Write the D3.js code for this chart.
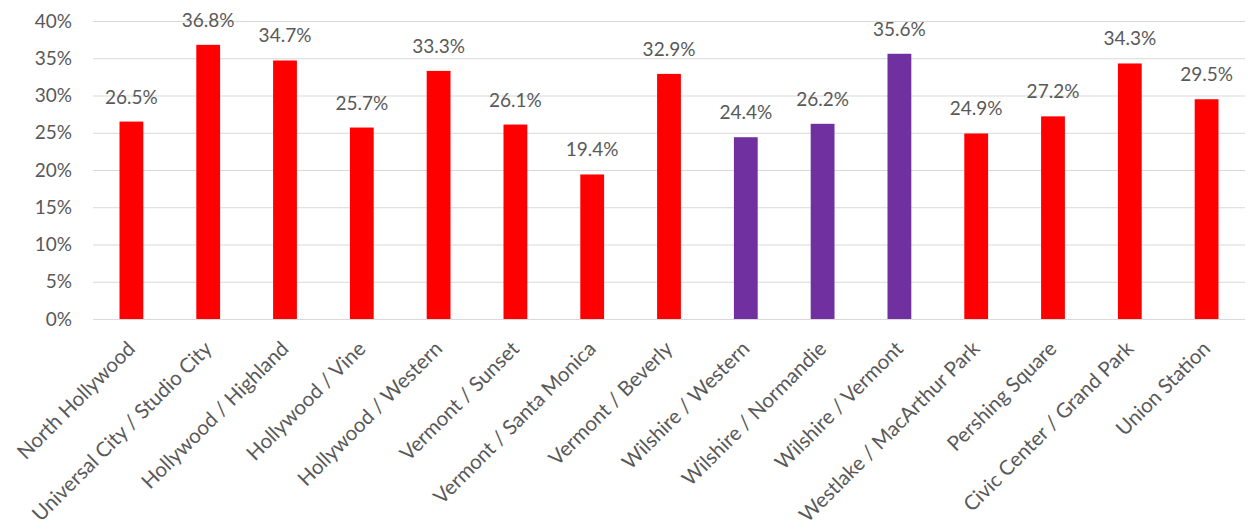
<!DOCTYPE html>
<html>
<head>
<meta charset="utf-8">
<script src="https://cdn.jsdelivr.net/npm/d3@7"></script>
<style>
  html, body { margin: 0; padding: 0; background: #fff; }
  svg { display: block; }
  text { font-family: Lato, "Open Sans", sans-serif; fill: #595959; }
</style>
</head>
<body>
<svg id="chart" width="1248" height="532"></svg>
<script>
// Station names along the line
const stations = [
  "North Hollywood",
  "Universal City / Studio City",
  "Hollywood / Highland",
  "Hollywood / Vine",
  "Hollywood / Western",
  "Vermont / Sunset",
  "Vermont / Santa Monica",
  "Vermont / Beverly",
  "Wilshire / Western",
  "Wilshire / Normandie",
  "Wilshire / Vermont",
  "Westlake / MacArthur Park",
  "Pershing Square",
  "Civic Center / Grand Park",
  "Union Station"
];

// Share per station (percent)
const shares = [26.5, 36.8, 34.7, 25.7, 33.3, 26.1, 19.4, 32.9, 24.4, 26.2, 35.6, 24.9, 27.2, 34.3, 29.5];

// Which line group each station belongs to
const lineGroup = ["B", "B", "B", "B", "B", "B", "B", "B", "D", "D", "D", "B", "B", "B", "B"];

const yTicks = [0, 5, 10, 15, 20, 25, 30, 35, 40];

const groupColor = { B: "#FF0000", D: "#7030A0" };

const svg = d3.select("#chart");
const plotLeft = 93, plotRight = 1245, plotTop = 21, plotBottom = 319;
const fontStack = "Lato, 'Open Sans', sans-serif";

const x = d3.scaleBand()
  .domain(stations)
  .range([plotLeft, plotRight])
  .paddingInner(0.69)
  .paddingOuter(0.345);

const y = d3.scaleLinear().domain([0, 40]).range([plotBottom, plotTop]);

// Horizontal gridlines
svg.append("g")
  .selectAll("line")
  .data(yTicks)
  .join("line")
  .attr("x1", plotLeft)
  .attr("x2", plotRight)
  .attr("y1", d => y(d) + 0.5)
  .attr("y2", d => y(d) + 0.5)
  .attr("stroke", "#d9d9d9")
  .attr("stroke-width", 1);

// Y axis labels
const yAxis = d3.axisLeft(y)
  .tickValues(yTicks)
  .tickFormat(d => d + "%")
  .tickSize(0)
  .tickPadding(0);

svg.append("g")
  .attr("transform", `translate(${plotLeft - 21},0)`)
  .call(yAxis)
  .call(g => g.select(".domain").remove())
  .call(g => g.selectAll("text")
    .attr("font-size", 19)
    .attr("fill", "#595959")
    .style("font-family", fontStack));

const data = stations.map((s, i) => ({ station: s, value: shares[i], group: lineGroup[i] }));

// Bars
svg.append("g")
  .selectAll("rect")
  .data(data)
  .join("rect")
  .attr("x", d => x(d.station))
  .attr("width", x.bandwidth())
  .attr("y", d => y(d.value))
  .attr("height", d => y(0) - y(d.value))
  .attr("fill", d => groupColor[d.group]);

// Value labels
svg.append("g")
  .selectAll("text")
  .data(data)
  .join("text")
  .attr("x", d => x(d.station) + x.bandwidth() / 2)
  .attr("y", d => y(d.value) - 18)
  .attr("text-anchor", "middle")
  .attr("font-size", 19)
  .text(d => d.value.toFixed(1) + "%");

// Category labels, rotated
const xAxis = d3.axisBottom(x).tickSize(0).tickPadding(0);
svg.append("g")
  .attr("transform", `translate(0,${plotBottom})`)
  .call(xAxis)
  .call(g => g.select(".domain").remove())
  .call(g => g.selectAll("text")
    .attr("font-size", 20.5)
    .attr("fill", "#595959")
    .style("font-family", fontStack)
    .attr("text-anchor", "end")
    .attr("dy", null)
    .attr("transform", "translate(5,31) rotate(-45)"));
</script>
</body>
</html>
